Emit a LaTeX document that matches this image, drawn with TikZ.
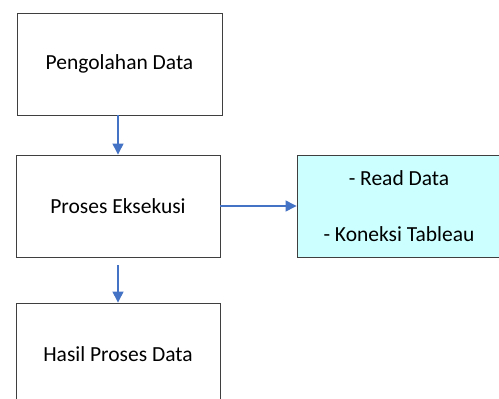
\documentclass[tikz,border=0pt]{standalone}
\usepackage{fontspec}
\setmainfont{Carlito}
\usetikzlibrary{arrows.meta}
\definecolor{edgegray}{HTML}{3F3F3F}
\definecolor{flowblue}{HTML}{4472C4}
\definecolor{lightcyan}{HTML}{CCFFFF}
\begin{document}
\begin{tikzpicture}[x=1pt,y=-1pt,
  box/.style={draw=edgegray, line width=0.9pt, fill=white, minimum width=204pt,
    minimum height=102pt, inner sep=0pt, font=\fontsize{21.5}{25}\selectfont},
  flow/.style={draw=flowblue, line width=1.3pt,
    -{Triangle[width=11pt,length=11pt]}}]
  \useasboundingbox (0,0) rectangle (499,399);
  \node[box, minimum width=205pt] (pengolahan) at (119.5,64) {Pengolahan Data};
  \node[box] (eksekusi) at (118,206) {Proses Eksekusi};
  \node[box, fill=lightcyan, align=center] (detail) at (399,206)
    {- Read Data\\[31pt]- Koneksi Tableau};
  \node[box] (hasil) at (118,354) {Hasil Proses Data};
  \draw[flow] (eksekusi.north |- pengolahan.south) -- (eksekusi.north);
  \draw[flow] (eksekusi.east) -- (detail.west);
  \draw[flow] ([yshift=-8pt]eksekusi.south) -- (hasil.north);
\end{tikzpicture}
\end{document}
